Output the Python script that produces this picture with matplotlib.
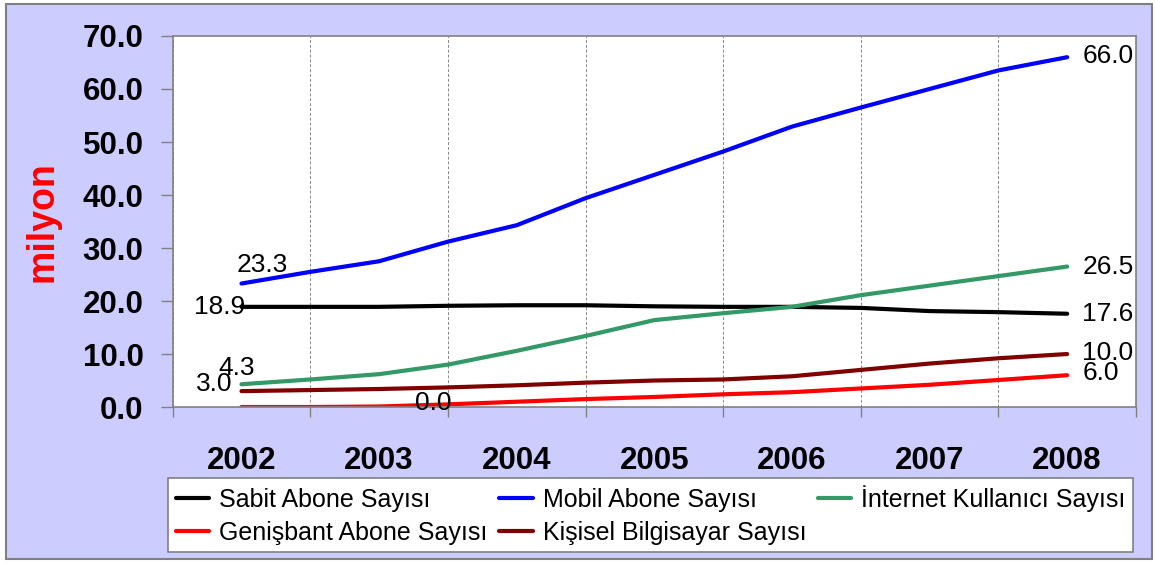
import matplotlib.pyplot as plt
from matplotlib.patches import Rectangle
from matplotlib.ticker import FixedLocator, NullFormatter

plt.rcParams["font.family"] = ["Liberation Sans", "DejaVu Sans"]

years = ["2002", "2003", "2004", "2005", "2006", "2007", "2008"]
# half-year sample points, 0 = 2002 ... 6 = 2008
t = [0, 0.5, 1, 1.5, 2, 2.5, 3, 3.5, 4, 4.5, 5, 5.5, 6]

sabit = [18.9, 18.9, 18.9, 19.1, 19.2, 19.2, 19.0, 18.9, 18.9, 18.7, 18.1, 17.9, 17.6]
mobil = [23.3, 25.5, 27.5, 31.2, 34.3, 39.4, 43.8, 48.2, 52.9, 56.5, 60.0, 63.5, 66.0]
internet = [4.3, 5.2, 6.2, 8.0, 10.6, 13.4, 16.4, 17.7, 18.9, 21.1, 22.9, 24.7, 26.5]
genisbant = [0.0, 0.0, 0.1, 0.5, 1.0, 1.5, 1.9, 2.4, 2.8, 3.5, 4.2, 5.1, 6.0]
bilgisayar = [3.0, 3.2, 3.4, 3.7, 4.1, 4.6, 5.0, 5.2, 5.8, 7.0, 8.2, 9.2, 10.0]

series = [
    ("Sabit Abone Sayısı", sabit, "#000000"),
    ("Mobil Abone Sayısı", mobil, "#0000FF"),
    ("İnternet Kullanıcı Sayısı", internet, "#339966"),
    ("Genişbant Abone Sayısı", genisbant, "#FF0000"),
    ("Kişisel Bilgisayar Sayısı", bilgisayar, "#800000"),
]

# offsets (points) for first-value labels: (dx, dy, ha)
start_offsets = {
    "Sabit Abone Sayısı": (3, 0, "right"),
    "Mobil Abone Sayısı": (-3.5, 13, "left"),
    "İnternet Kullanıcı Sayısı": (-16.5, 11.5, "left"),
    "Genişbant Abone Sayısı": (125, 3, "left"),
    "Kişisel Bilgisayar Sayısı": (-6.5, 5, "right"),
}
end_dy = {
    "Sabit Abone Sayısı": 0,
    "Mobil Abone Sayısı": 0.5,
    "İnternet Kullanıcı Sayısı": 0,
    "Genişbant Abone Sayısı": 1.5,
    "Kişisel Bilgisayar Sayısı": 1,
}

fig = plt.figure(figsize=(11.55, 5.65), dpi=100)
fig.patch.set_facecolor("white")
fig.patches.append(Rectangle((6 / 1155, 6 / 565), 1146 / 1155, 555 / 565,
                             transform=fig.transFigure, facecolor="#CCCCFF",
                             edgecolor="#808080", linewidth=1.5, zorder=-10))

ax = fig.add_axes([0.1495, 0.2796, 0.834, 0.6567])
ax.set_facecolor("white")

lines = {}
for name, vals, color in series:
    (ln,) = ax.plot(t, vals, color=color, linewidth=3, label=name, solid_capstyle="round")
    lines[name] = ln
    dx, dy, ha = start_offsets[name]
    ax.annotate(f"{vals[0]:.1f}", xy=(t[0], vals[0]), xytext=(dx, dy),
                textcoords="offset points", ha=ha, va="center", fontsize=19)
    ax.annotate(f"{vals[-1]:.1f}", xy=(t[-1], vals[-1]), xytext=(11, end_dy[name]),
                textcoords="offset points", ha="left", va="center", fontsize=19)

ax.set_xlim(-0.5, 6.5)
ax.set_ylim(0, 70)
ax.set_yticks(range(0, 71, 10))
ax.set_yticklabels([f"{v:.1f}" for v in range(0, 71, 10)], fontsize=22.5, fontweight="bold")
ax.set_xticks(range(len(years)))
ax.set_xticklabels(years, fontsize=22.5, fontweight="bold")
ax.xaxis.set_minor_locator(FixedLocator([i - 0.5 for i in range(len(years) + 1)]))
ax.xaxis.set_minor_formatter(NullFormatter())
ax.tick_params(axis="x", which="major", length=0, pad=28)
ax.tick_params(axis="x", which="minor", length=7, color="#808080", width=1)
ax.tick_params(axis="y", length=9, color="#808080", width=1, pad=12)
ax.grid(axis="x", which="minor", linestyle=(0, (3, 2)), color="#888888", linewidth=0.7)
for sp in ax.spines.values():
    sp.set_color("#808080")
    sp.set_linewidth(1.2)

ax.set_ylabel("milyon", color="#FF0000", fontsize=27, fontweight="bold", labelpad=16)

order = ["Sabit Abone Sayısı", "Genişbant Abone Sayısı", "Mobil Abone Sayısı",
         "Kişisel Bilgisayar Sayısı", "İnternet Kullanıcı Sayısı"]
leg = fig.legend([lines[n] for n in order], order, ncol=3, loc="upper left",
                 bbox_to_anchor=(168 / 1155, 1 - 478 / 565), fontsize=18,
                 frameon=True, fancybox=False, edgecolor="#808080", framealpha=1,
                 handlelength=1.35, handletextpad=0.4, columnspacing=0.45,
                 borderpad=0.3, labelspacing=0.35, borderaxespad=0)
leg.get_frame().set_linewidth(1.2)

fig.savefig("out.png", dpi=100)
